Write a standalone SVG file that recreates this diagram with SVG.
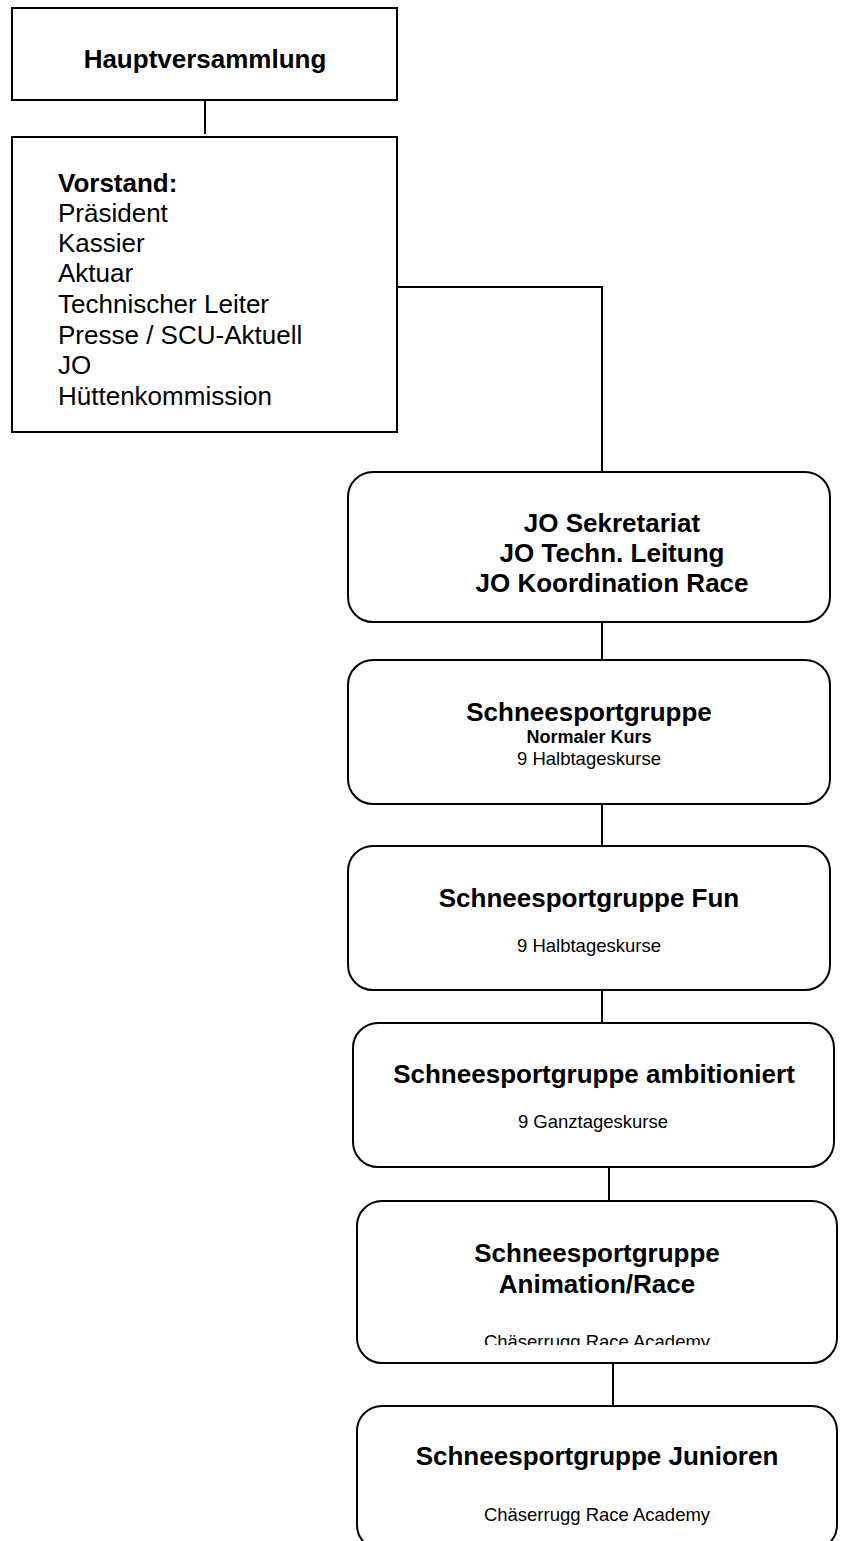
<svg xmlns="http://www.w3.org/2000/svg" width="842" height="1541" viewBox="0 0 842 1541">
<style>
.box{fill:#fff;stroke:#000;stroke-width:2}
.ln{fill:none;stroke:#000;stroke-width:2}
text{font-family:"Liberation Sans",Arial,sans-serif;fill:#000}
.b26{font-size:26px;font-weight:bold}
.r26{font-size:26px}
.b18{font-size:18px;font-weight:bold}
.r18{font-size:18.5px}
.c{text-anchor:middle}
</style>
<defs>
<clipPath id="clipAnim"><rect x="357" y="1201" width="480" height="144"/></clipPath>
</defs>
<rect width="842" height="1541" fill="#fff"/>
<g id="connectors">
<line class="ln" x1="205" y1="101" x2="205" y2="134"/>
<polyline class="ln" points="398,287 602,287 602,472"/>
<line class="ln" x1="602" y1="622" x2="602" y2="660"/>
<line class="ln" x1="602" y1="804" x2="602" y2="846"/>
<line class="ln" x1="602" y1="990" x2="602" y2="1023"/>
<line class="ln" x1="609" y1="1167" x2="609" y2="1201"/>
<line class="ln" x1="613" y1="1363" x2="613" y2="1406"/>
</g>
<g id="hauptversammlung">
<rect class="box" x="12" y="8" width="385" height="92"/>
<text class="b26 c" x="205" y="68">Hauptversammlung</text>
</g>
<g id="vorstand">
<rect class="box" x="12" y="137" width="385" height="295"/>
<text class="b26" x="58" y="192">Vorstand:</text>
<text class="r26" x="58" y="222">Präsident</text>
<text class="r26" x="58" y="252">Kassier</text>
<text class="r26" x="58" y="282">Aktuar</text>
<text class="r26" x="58" y="313">Technischer Leiter</text>
<text class="r26" x="58" y="344">Presse / SCU-Aktuell</text>
<text class="r26" x="58" y="374">JO</text>
<text class="r26" x="58" y="405">Hüttenkommission</text>
</g>
<g id="jo">
<rect class="box" x="348" y="472" width="482" height="150" rx="25" ry="25"/>
<text class="b26 c" x="612" y="532">JO Sekretariat</text>
<text class="b26 c" x="612" y="562">JO Techn. Leitung</text>
<text class="b26 c" x="612" y="592">JO Koordination Race</text>
</g>
<g id="normal">
<rect class="box" x="348" y="660" width="482" height="144" rx="25" ry="25"/>
<text class="b26 c" x="589" y="721">Schneesportgruppe</text>
<text class="b18 c" x="589" y="743">Normaler Kurs</text>
<text class="r18 c" x="589" y="765">9 Halbtageskurse</text>
</g>
<g id="fun">
<rect class="box" x="348" y="846" width="482" height="144" rx="25" ry="25"/>
<text class="b26 c" x="589" y="907">Schneesportgruppe Fun</text>
<text class="r18 c" x="589" y="952">9 Halbtageskurse</text>
</g>
<g id="ambitioniert">
<rect class="box" x="353" y="1023" width="481" height="144" rx="25" ry="25"/>
<text class="b26 c" x="594" y="1083">Schneesportgruppe ambitioniert</text>
<text class="r18 c" x="593" y="1128">9 Ganztageskurse</text>
</g>
<g id="animation">
<rect class="box" x="357" y="1201" width="480" height="162" rx="25" ry="25"/>
<text class="b26 c" x="597" y="1262">Schneesportgruppe</text>
<text class="b26 c" x="597" y="1293">Animation/Race</text>
<text class="r18 c" x="597" y="1348" clip-path="url(#clipAnim)">Chäserrugg Race Academy</text>
</g>
<g id="junioren">
<rect class="box" x="357" y="1406" width="480" height="144" rx="25" ry="25"/>
<text class="b26 c" x="597" y="1465">Schneesportgruppe Junioren</text>
<text class="r18 c" x="597" y="1521">Chäserrugg Race Academy</text>
</g>
</svg>
